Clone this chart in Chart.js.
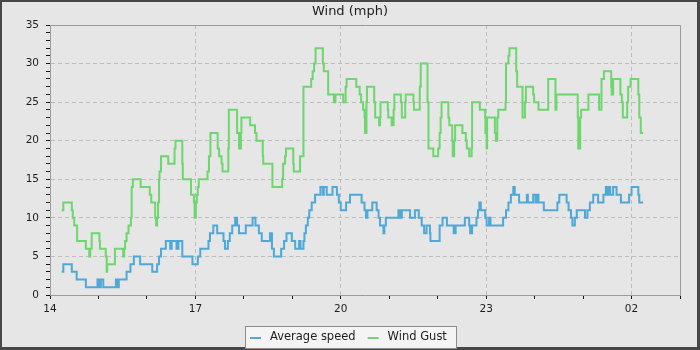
<!DOCTYPE html>
<html>
<head>
<meta charset="utf-8">
<title>Wind (mph)</title>
<script src="https://cdn.jsdelivr.net/npm/chart.js@4/dist/chart.umd.min.js"></script>
<style>
  html, body { margin: 0; padding: 0; background: #e6e6e6; }
  canvas { display: block; }
</style>
</head>
<body>
<canvas id="wind" width="700" height="350"></canvas>
<script>
// Time is in decimal hours from 14:00 (values past 24 are after midnight).
// Each entry marks the moment the reading changes to the given value.
const avgTimes = [
  14.24, 14.275, 14.45, 14.55, 14.74, 14.98, 15.02, 15.05, 15.10, 15.36, 15.39, 15.42,
  15.58, 15.66, 15.73, 15.86, 16.11, 16.21, 16.25, 16.29, 16.39, 16.48, 16.51, 16.61,
  16.65, 16.73, 16.94, 17.05, 17.10, 17.27, 17.30, 17.37, 17.45, 17.58, 17.61, 17.67,
  17.71, 17.76, 17.82, 17.86, 17.90, 18.04, 18.18, 18.24, 18.31, 18.37, 18.54, 18.58,
  18.62, 18.77, 18.83, 18.88, 18.99, 19.06, 19.14, 19.17, 19.23, 19.25, 19.28, 19.32,
  19.35, 19.40, 19.47, 19.58, 19.63, 19.65, 19.71, 19.83, 19.92, 19.96, 20.00, 20.11,
  20.19, 20.43, 20.49, 20.52, 20.55, 20.65, 20.74, 20.78, 20.81, 20.88, 20.90, 20.93,
  21.19, 21.23, 21.26, 21.43, 21.53, 21.61, 21.67, 21.72, 21.77, 21.84, 21.85, 22.04,
  22.10, 22.19, 22.33, 22.37, 22.56, 22.65, 22.67, 22.71, 22.80, 22.83, 22.86, 22.89,
  22.98, 23.01, 23.06, 23.09, 23.35, 23.41, 23.46, 23.51, 23.56, 23.59, 23.68, 23.84,
  23.86, 23.97, 24.02, 24.04, 24.08, 24.19, 24.47, 24.51, 24.66, 24.70, 24.75, 24.78,
  24.83, 24.87, 25.04, 25.09, 25.14, 25.21, 25.31, 25.42, 25.47, 25.51, 25.53, 25.56,
  25.62, 25.69, 25.78, 25.95, 26.00, 26.14, 26.16, 26.24
];
const avgSpeed = [
  3, 4, 3, 2, 1, 2, 1, 2, 1, 2, 1, 2,
  3, 4, 5, 4, 3, 4, 5, 6, 7, 6, 7, 6,
  7, 5, 4, 5, 6, 7, 8, 9, 8, 7, 6, 7,
  8, 9, 10, 9, 8, 9, 10, 9, 8, 7, 8, 6,
  5, 6, 7, 8, 7, 6, 7, 6, 7, 8, 9, 10,
  11, 12, 13, 14, 13, 14, 13, 14, 13, 12, 11, 12,
  13, 12, 11, 10, 11, 12, 11, 10, 9, 8, 9, 10,
  11, 10, 11, 10, 11, 10, 9, 8, 9, 8, 7, 9,
  10, 9, 8, 9, 10, 9, 8, 9, 10, 11, 12, 11,
  10, 9, 10, 9, 10, 11, 12, 13, 14, 13, 12, 13,
  12, 13, 12, 13, 12, 11, 12, 13, 12, 11, 10, 9,
  10, 11, 10, 11, 12, 13, 12, 13, 14, 13, 14, 13,
  14, 13, 12, 13, 14, 13, 12, 12
];

const gustTimes = [
  14.24, 14.275, 14.45, 14.47, 14.50, 14.56, 14.74, 14.81, 14.83, 14.86, 15.02, 15.03,
  15.15, 15.17, 15.18, 15.34, 15.51, 15.53, 15.55, 15.58, 15.62, 15.67, 15.685, 15.71,
  15.87, 16.06, 16.09, 16.17, 16.19, 16.21, 16.23, 16.25, 16.26, 16.29, 16.44, 16.57,
  16.59, 16.73, 16.74, 16.91, 16.97, 16.985, 17.01, 17.03, 17.05, 17.07, 17.25, 17.28,
  17.31, 17.46, 17.49, 17.54, 17.56, 17.68, 17.69, 17.86, 17.90, 17.94, 17.95, 18.13,
  18.23, 18.26, 18.39, 18.40, 18.59, 18.79, 18.81, 18.85, 18.87, 19.02, 19.03, 19.16,
  19.23, 19.39, 19.42, 19.45, 19.48, 19.63, 19.65, 19.74, 19.86, 19.89, 20.05, 20.10,
  20.12, 20.32, 20.39, 20.42, 20.46, 20.49, 20.50, 20.53, 20.54, 20.69, 20.71, 20.79,
  20.81, 20.82, 20.97, 20.98, 21.05, 21.09, 21.105, 21.24, 21.26, 21.33, 21.34, 21.50,
  21.51, 21.63, 21.65, 21.79, 21.81, 21.91, 22.01, 22.04, 22.06, 22.08, 22.22, 22.24,
  22.30, 22.31, 22.34, 22.36, 22.51, 22.58, 22.60, 22.65, 22.70, 22.71, 22.87, 22.98,
  22.985, 23.01, 23.02, 23.18, 23.20, 23.23, 23.25, 23.40, 23.41, 23.46, 23.48, 23.62,
  23.64, 23.75, 23.80, 23.82, 23.97, 23.99, 24.08, 24.28, 24.43, 24.45, 24.89, 24.90,
  24.94, 24.96, 25.11, 25.33, 25.38, 25.43, 25.58, 25.59, 25.62, 25.77, 25.80, 25.82,
  25.91, 25.93, 25.98, 26.14, 26.16, 26.19, 26.24
];
const windGust = [
  11, 12, 11, 10, 9, 7, 6, 5, 6, 8, 7, 6,
  5, 3, 4, 6, 5, 6, 7, 8, 9, 10, 14, 15,
  14, 13, 12, 10, 9, 10, 12, 15, 16, 18, 17, 19,
  20, 17, 15, 13, 12, 10, 12, 13, 14, 15, 16, 18,
  21, 19, 18, 17, 16, 19, 24, 21, 19, 21, 23, 22,
  21, 20, 18, 17, 14, 15, 17, 18, 19, 17, 16, 18,
  27, 28, 29, 30, 32, 30, 29, 26, 25, 26, 25, 27,
  28, 27, 26, 25, 24, 23, 21, 25, 27, 25, 23, 22,
  23, 25, 24, 23, 22, 24, 26, 25, 23, 25, 26, 25,
  24, 27, 30, 25, 19, 18, 19, 21, 23, 25, 23, 22,
  20, 18, 20, 22, 21, 20, 19, 18, 19, 25, 24, 23,
  21, 19, 23, 21, 20, 23, 24, 25, 30, 31, 32, 29,
  27, 23, 25, 27, 26, 25, 24, 28, 24, 26, 23, 19,
  23, 24, 26, 24, 28, 29, 27, 26, 28, 26, 25, 23,
  25, 27, 28, 26, 23, 21, 21
];

// Hour axis: one tick per hour, labelled every third hour.
const hourStart = 14;
const hourEnd = 27;
const hourLabels = { 14: '14', 17: '17', 20: '20', 23: '23', 26: '02' };
const speedMax = 35;

const FONT = "'DejaVu Sans', 'Liberation Sans', sans-serif";
const BG = '#e6e6e6';

function toPoints(times, values) {
  return times.map((t, i) => ({ x: t, y: values[i] }));
}

// Background, outer frame, plot box, title and boxed legend.
const decorations = {
  id: 'decorations',
  beforeDraw(chart) {
    const { ctx, width, height } = chart;
    ctx.save();
    ctx.fillStyle = '#474747';
    ctx.fillRect(0, 0, width, height);
    ctx.fillStyle = BG;
    ctx.fillRect(2, 2, width - 5, height - 5);
    ctx.restore();
  },
  afterDatasetsDraw(chart) {
    const { ctx, chartArea: a } = chart;
    ctx.save();
    ctx.strokeStyle = '#9a9a9a';
    ctx.lineWidth = 1;
    ctx.beginPath();
    ctx.moveTo(Math.round(a.left) + 0.5, Math.round(a.top) + 0.5);
    ctx.lineTo(Math.round(a.right) + 0.5, Math.round(a.top) + 0.5);
    ctx.lineTo(Math.round(a.right) + 0.5, Math.round(a.bottom) + 0.5);
    ctx.stroke();
    ctx.restore();
  },
  afterDraw(chart) {
    const { ctx } = chart;
    ctx.save();
    // title
    ctx.fillStyle = '#1e1e1e';
    ctx.font = '13px ' + FONT;
    ctx.textAlign = 'center';
    ctx.textBaseline = 'middle';
    ctx.fillText('Wind (mph)', 350, 12);

    // legend
    ctx.font = '11.5px ' + FONT;
    const sets = chart.data.datasets;
    const padL = 5, marker = 11, gap = 9, itemGap = 12, padR = 10;
    const widths = sets.map(d => ctx.measureText(d.label).width);
    let total = padL + padR;
    widths.forEach((w, i) => { total += marker + gap + w + (i < widths.length - 1 ? itemGap : 0); });
    total = Math.round(total);
    const bx = Math.round(350.5 - total / 2), by = 326, bh = 22;
    ctx.fillStyle = '#f4f4f4';
    ctx.fillRect(bx, by, total, bh);
    ctx.strokeStyle = '#8c8c8c';
    ctx.lineWidth = 1;
    ctx.strokeRect(bx + 0.5, by + 0.5, total - 1, bh);
    let x = bx + padL;
    const cy = 338;
    sets.forEach((d, i) => {
      ctx.strokeStyle = d.borderColor;
      ctx.lineWidth = 2;
      ctx.beginPath();
      ctx.moveTo(x, cy);
      ctx.lineTo(x + marker, cy);
      ctx.stroke();
      x += marker + gap;
      ctx.fillStyle = '#1e1e1e';
      ctx.textAlign = 'left';
      ctx.textBaseline = 'middle';
      ctx.fillText(d.label, x, cy - 1);
      x += widths[i] + itemGap;
    });
    ctx.restore();
  }
};

new Chart(document.getElementById('wind'), {
  type: 'line',
  data: {
    datasets: [
      {
        label: 'Average speed',
        data: toPoints(avgTimes, avgSpeed),
        borderColor: '#4ea8d8',
        borderWidth: 2,
        stepped: true,
        pointRadius: 0,
        fill: false
      },
      {
        label: 'Wind Gust',
        data: toPoints(gustTimes, windGust),
        borderColor: '#6dd66d',
        borderWidth: 2,
        stepped: true,
        pointRadius: 0,
        fill: false
      }
    ]
  },
  options: {
    responsive: false,
    devicePixelRatio: 1,
    animation: false,
    layout: { padding: { top: 25, right: 20, bottom: 0, left: 0 } },
    plugins: {
      legend: { display: false },
      title: { display: false },
      tooltip: { enabled: false }
    },
    scales: {
      x: {
        type: 'linear',
        min: hourStart,
        max: hourEnd,
        afterFit(scale) { scale.height = 55; },
        afterBuildTicks(scale) {
          const ticks = [];
          for (let h = hourStart; h <= hourEnd; h++) ticks.push({ value: h });
          scale.ticks = ticks;
        },
        ticks: {
          autoSkip: false,
          maxRotation: 0,
          padding: 4,
          color: '#1e1e1e',
          font: { family: FONT, size: 10.5 },
          callback: v => hourLabels[v] || ''
        },
        grid: {
          color: c => (c.tick && hourLabels[c.tick.value] && c.tick.value !== hourStart) ? '#bdbdbd' : 'rgba(0,0,0,0)',
          tickColor: '#111',
          tickLength: 4,
          lineWidth: 1
        },
        border: { color: '#9a9a9a', width: 1, dash: [4, 3] }
      },
      y: {
        min: 0,
        max: speedMax,
        afterFit(scale) { scale.width = 50; },
        afterBuildTicks(scale) {
          const ticks = [];
          for (let v = 0; v <= speedMax; v++) ticks.push({ value: v });
          scale.ticks = ticks;
        },
        ticks: {
          autoSkip: false,
          padding: 7,
          color: '#1e1e1e',
          font: { family: FONT, size: 10.5 },
          callback: v => (v % 5 === 0 ? String(v) : '')
        },
        grid: {
          color: c => (c.tick && c.tick.value % 5 === 0 && c.tick.value !== 0 && c.tick.value !== speedMax) ? '#bdbdbd' : 'rgba(0,0,0,0)',
          tickColor: '#111',
          tickLength: 4,
          lineWidth: 1
        },
        border: { color: '#9a9a9a', width: 1, dash: [4, 3] }
      }
    }
  },
  plugins: [decorations]
});
</script>
</body>
</html>
